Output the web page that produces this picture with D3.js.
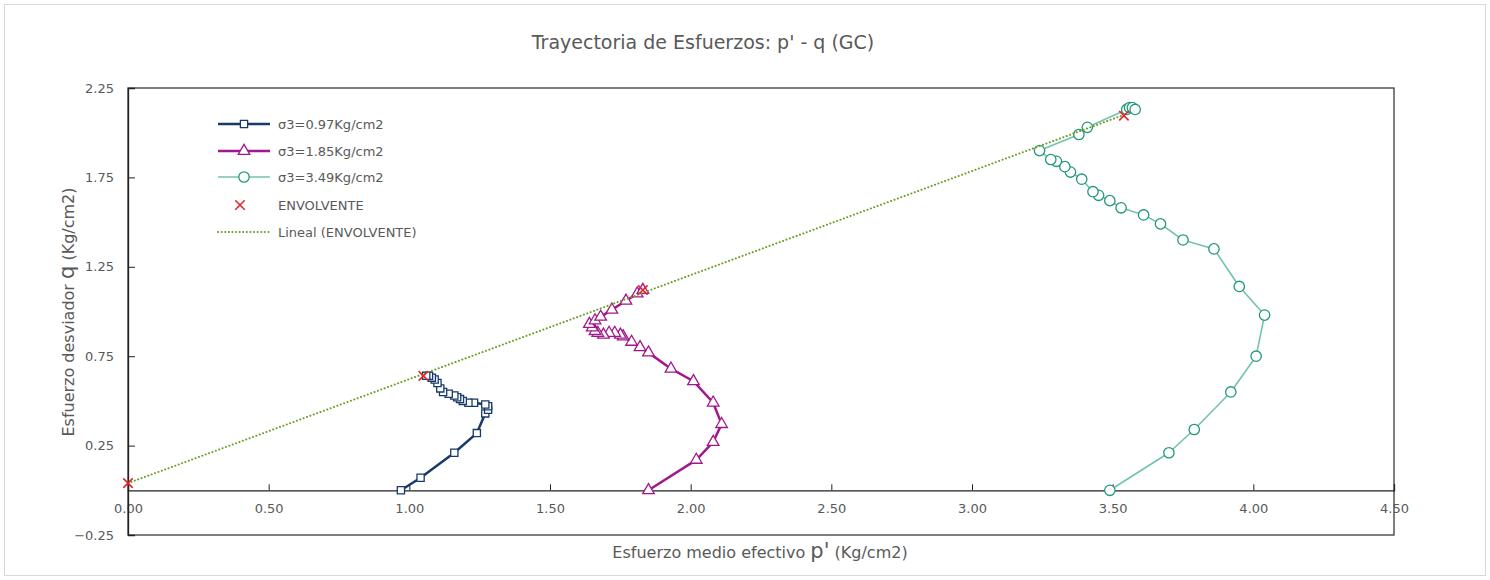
<!DOCTYPE html>
<html lang="es">
<head>
    <meta charset="UTF-8">
    <title>Trayectoria de Esfuerzos</title>
    <script src="https://d3js.org/d3.v7.min.js"></script>
    <style>
        body { margin: 0; background: #fff; }
        text { font-family: "DejaVu Sans", sans-serif; fill: #595959; }
    </style>
</head>
<body>
    <div id="chart"></div>

    <script>
        // p' (Kg/cm2), q (Kg/cm2)
        const serie1 = [[0.97,0.00],[1.04,0.07],[1.16,0.21],[1.24,0.32],[1.27,0.43],[1.28,0.45],[1.28,0.47],[1.27,0.48],
                        [1.23,0.49],[1.21,0.49],[1.19,0.50],[1.18,0.51],[1.17,0.52],[1.16,0.53],[1.14,0.54],[1.12,0.55],
                        [1.11,0.57],[1.10,0.60],[1.09,0.62],[1.08,0.63],[1.07,0.64],[1.06,0.64]];
        const serie2 = [[1.85,0.00],[2.02,0.17],[2.08,0.27],[2.11,0.37],[2.08,0.49],[2.01,0.61],[1.93,0.68],[1.85,0.77],
                        [1.82,0.80],[1.79,0.83],[1.76,0.86],[1.75,0.87],[1.73,0.88],[1.71,0.88],[1.69,0.87],[1.67,0.88],
                        [1.66,0.89],[1.65,0.91],[1.64,0.93],[1.66,0.95],[1.68,0.97],[1.72,1.01],[1.77,1.06],[1.81,1.10],[1.83,1.12]];
        const serie3 = [[3.49,0.00],[3.70,0.21],[3.79,0.34],[3.92,0.55],[4.01,0.75],[4.04,0.98],[3.95,1.14],[3.86,1.35],
                        [3.75,1.40],[3.67,1.49],[3.61,1.54],[3.53,1.58],[3.49,1.62],[3.45,1.65],[3.43,1.67],[3.39,1.74],
                        [3.35,1.78],[3.33,1.81],[3.30,1.84],[3.28,1.85],[3.24,1.90],[3.38,1.99],[3.41,2.03],[3.55,2.13],
                        [3.56,2.14],[3.57,2.14],[3.58,2.13]];
        const envolvente = [[0.00,0.04],[1.05,0.64],[1.83,1.12],[3.54,2.095]];

        const xTicks = [0, 0.5, 1, 1.5, 2, 2.5, 3, 3.5, 4, 4.5];
        const yTicks = [-0.25, 0.25, 0.75, 1.25, 1.75, 2.25];

        const width = 1490, height = 580;
        const plot = {left: 128, right: 1394, top: 88, bottom: 535};

        const x = d3.scaleLinear().domain([0, 4.5]).range([plot.left, plot.right]);
        const y = d3.scaleLinear().domain([-0.25, 2.25]).range([plot.bottom, plot.top]);

        const svg = d3.select("#chart").append("svg")
                      .attr("width", width)
                      .attr("height", height);

        svg.append("rect")
           .attr("x", 4.5).attr("y", 4.5)
           .attr("width", width - 9).attr("height", height - 9)
           .attr("fill", "#fff").attr("stroke", "#d9d9d9");

        svg.append("text")
           .attr("x", 703).attr("y", 49)
           .attr("text-anchor", "middle")
           .style("font-size", "19px")
           .text("Trayectoria de Esfuerzos: p' - q (GC)");

        // plot frame
        svg.append("rect")
           .attr("x", plot.left).attr("y", plot.top)
           .attr("width", plot.right - plot.left).attr("height", plot.bottom - plot.top)
           .attr("fill", "none").attr("stroke", "#3a3a3a").attr("stroke-width", 1.3);

        // x axis on q = 0
        const xg = svg.append("g").attr("transform", `translate(0, ${y(0)})`);
        xg.call(d3.axisBottom(x).tickValues(d3.range(0, 4.51, 0.1)).tickSize(-4).tickFormat(""));
        xg.call(d3.axisBottom(x).tickValues(xTicks).tickSize(-6).tickPadding(13).tickFormat(d3.format(".2f")));
        xg.selectAll(".domain").attr("stroke", "#222").attr("stroke-width", 1.3);
        xg.selectAll("line").attr("stroke", "#222");
        xg.selectAll("text").style("font-size", "13px").attr("fill", "#595959");

        // y axis on p' = 0
        const yg = svg.append("g").attr("transform", `translate(${x(0)}, 0)`);
        yg.call(d3.axisLeft(y).tickValues(d3.range(-0.25, 2.251, 0.05)).tickSize(-4).tickFormat(""));
        yg.call(d3.axisLeft(y).tickValues(yTicks).tickSize(-7).tickPadding(14).tickFormat(d3.format(".2f")));
        yg.selectAll(".domain").attr("stroke", "#222").attr("stroke-width", 1.3);
        yg.selectAll("line").attr("stroke", "#222");
        yg.selectAll("text").style("font-size", "13px").attr("fill", "#595959");

        // axis titles
        const xt = svg.append("text").attr("x", 760).attr("y", 558).attr("text-anchor", "middle")
                      .style("font-size", "16px");
        xt.append("tspan").text("Esfuerzo medio efectivo ");
        xt.append("tspan").style("font-size", "21px").text("p'");
        xt.append("tspan").text(" (Kg/cm2)");

        const yt = svg.append("text").attr("transform", `translate(74, 312) rotate(-90)`)
                      .attr("text-anchor", "middle").style("font-size", "16px");
        yt.append("tspan").text("Esfuerzo desviador ");
        yt.append("tspan").style("font-size", "21px").text("q");
        yt.append("tspan").text(" (Kg/cm2)");

        // trend line of envolvente (least squares)
        const mx = d3.mean(envolvente, d => d[0]), my = d3.mean(envolvente, d => d[1]);
        const slope = d3.sum(envolvente, d => (d[0] - mx) * (d[1] - my)) / d3.sum(envolvente, d => (d[0] - mx) ** 2);
        const inter = my - slope * mx;
        const xMin = d3.min(envolvente, d => d[0]), xMax = d3.max(envolvente, d => d[0]);
        const trendColor = "#6b9e25";

        const line = d3.line().x(d => x(d[0])).y(d => y(d[1]));

        const series = [
            {name: "σ3=0.97Kg/cm2", data: serie1, line: "#173a6b", mark: "#173a6b", lw: 2.5, shape: d3.symbolSquare, size: 52},
            {name: "σ3=1.85Kg/cm2", data: serie2, line: "#a0198c", mark: "#a0198c", lw: 2.5, shape: d3.symbolTriangle, size: 58},
            {name: "σ3=3.49Kg/cm2", data: serie3, line: "#74c3ab", mark: "#23977c", lw: 1.6, shape: d3.symbolCircle, size: 85}
        ];

        series.forEach(s => {
            svg.append("path")
               .datum(s.data)
               .attr("d", line)
               .attr("fill", "none")
               .attr("stroke", s.line)
               .attr("stroke-width", s.lw)
               .attr("stroke-linejoin", "round");
        });

        series.forEach(s => {
            svg.selectAll(null)
               .data(s.data)
               .enter()
               .append("path")
               .attr("d", d3.symbol().type(s.shape).size(s.size))
               .attr("transform", d => `translate(${x(d[0])}, ${y(d[1])})`)
               .attr("fill", "#fff")
               .attr("stroke", s.mark)
               .attr("stroke-width", 1.3);
        });

        svg.append("line")
           .attr("x1", x(xMin)).attr("y1", y(inter + slope * xMin))
           .attr("x2", x(xMax)).attr("y2", y(inter + slope * xMax))
           .attr("stroke", trendColor)
           .attr("stroke-width", 2)
           .attr("stroke-dasharray", "0.1,3.5")
           .attr("stroke-linecap", "round");

        const cross = d3.symbol().type(d3.symbolX).size(60);
        svg.selectAll(".env")
           .data(envolvente)
           .enter()
           .append("path")
           .attr("class", "env")
           .attr("d", cross)
           .attr("transform", d => `translate(${x(d[0])}, ${y(d[1])})`)
           .attr("fill", "none")
           .attr("stroke", "#e0262b")
           .attr("stroke-width", 1.6);

        // legend
        const legend = svg.append("g");
        const rows = [124, 151, 177, 205, 232];
        series.forEach((s, i) => {
            const g = legend.append("g").attr("transform", `translate(0, ${rows[i]})`);
            g.append("line").attr("x1", 218).attr("x2", 270).attr("stroke", s.line).attr("stroke-width", s.lw);
            g.append("path").attr("d", d3.symbol().type(s.shape).size(s.size))
             .attr("transform", "translate(244, 0)")
             .attr("fill", "#fff").attr("stroke", s.mark).attr("stroke-width", 1.3);
            g.append("text").attr("x", 278).attr("dy", "0.35em").style("font-size", "13px").text(s.name);
        });
        const g4 = legend.append("g").attr("transform", `translate(0, ${rows[3]})`);
        g4.append("path").attr("d", cross).attr("transform", "translate(240, 0)")
          .attr("fill", "none").attr("stroke", "#e0262b").attr("stroke-width", 1.6);
        g4.append("text").attr("x", 278).attr("dy", "0.35em").style("font-size", "13px").text("ENVOLVENTE");
        const g5 = legend.append("g").attr("transform", `translate(0, ${rows[4]})`);
        g5.append("line").attr("x1", 218).attr("x2", 270)
          .attr("stroke", trendColor).attr("stroke-width", 2)
          .attr("stroke-dasharray", "0.1,3.5").attr("stroke-linecap", "round");
        g5.append("text").attr("x", 278).attr("dy", "0.35em").style("font-size", "13px").text("Lineal (ENVOLVENTE)");
    </script>
</body>
</html>
